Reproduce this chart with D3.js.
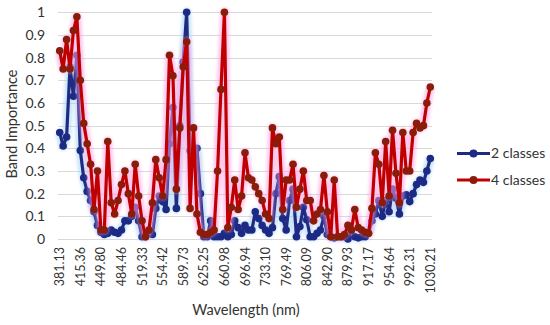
<!DOCTYPE html>
<html>
<head>
<meta charset="utf-8">
<script src="https://cdn.jsdelivr.net/npm/d3@7"></script>
<style>
  body { margin: 0; background: #fff; }
  text { font-family: Lato, "Open Sans", sans-serif; fill: #333; }
</style>
</head>
<body>
<div id="chart"></div>
<script>
// labelled wavelengths (every 6th band)
var tickLabels = ["381.13","415.36","449.80","484.46","519.33","554.42","589.73","625.25","660.98",
                  "696.94","733.10","769.49","806.09","842.90","879.93","917.17","954.64","992.31","1030.21"];

var twoClasses = [
  .47,.41,.45,.76,.63,.81,.39,.27,.21,.17,
  .12,.06,.03,.02,.025,.04,.03,.025,.04,.08,
  .08,.10,.14,.08,.01,.01,.025,.02,.135,.19,
  .165,.13,.42,.58,.135,.50,.78,1.0,.39,.38,
  .40,.20,.01,.01,.08,.01,.01,.01,.025,.01,
  .02,.08,.05,.025,.06,.04,.04,.12,.09,.06,
  .04,.025,.05,.20,.275,.09,.04,.17,.22,.01,
  .055,.14,.085,.01,.01,.025,.04,.10,.02,.01,
  .005,.01,.01,.01,0,.04,.01,.005,.01,.01,
  .025,.08,.11,.17,.10,.17,.12,.22,.18,.11,
  .19,.195,.165,.20,.24,.26,.25,.30,.355
];

var fourClasses = [
  .83,.75,.88,.75,.92,.98,.70,.51,.42,.33,
  .13,.30,.04,.04,.43,.16,.11,.17,.24,.30,
  .20,.11,.33,.19,.08,.01,.04,.16,.35,.27,
  .19,.35,.81,.72,.22,.49,.76,.87,.135,.49,
  .11,.03,.02,.02,.03,.04,.30,.66,1.0,.05,
  .14,.26,.13,.19,.38,.27,.26,.23,.20,.17,
  .11,.09,.49,.42,.45,.13,.26,.26,.33,.14,
  .22,.30,.17,.17,.08,.11,.13,.28,.12,.01,
  .26,.01,.01,.02,.06,.04,.13,.05,.04,.03,
  .025,.135,.38,.33,.16,.43,.19,.48,.29,.16,
  .47,.30,.30,.47,.51,.49,.50,.60,.67
];

var seriesNames = ["2 classes", "4 classes"];
var yTicks = [0, 0.1, 0.2, 0.3, 0.4, 0.5, 0.6, 0.7, 0.8, 0.9, 1];
var labelStep = 6;

var W = 550, H = 325;
var plot = {left: 58, right: 432, top: 12.3, bottom: 239};

var svg = d3.select("#chart").append("svg")
    .attr("width", W)
    .attr("height", H);

var defs = svg.append("defs");
defs.append("filter").attr("id", "glow")
    .attr("x", "-10%").attr("y", "-10%").attr("width", "120%").attr("height", "120%")
  .append("feGaussianBlur").attr("stdDeviation", 1.6);

var x = d3.scaleBand()
    .domain(d3.range(twoClasses.length))
    .range([plot.left, plot.right]);

var y = d3.scaleLinear()
    .domain([0, 1])
    .range([plot.bottom, plot.top]);

function cx(i) { return x(i) + x.bandwidth() / 2; }

// gridlines
svg.append("g").selectAll("line")
    .data(yTicks)
    .enter().append("line")
    .attr("x1", plot.left).attr("x2", plot.right)
    .attr("y1", function(d) { return Math.round(y(d)) + 0.5; })
    .attr("y2", function(d) { return Math.round(y(d)) + 0.5; })
    .attr("stroke", "#d9d9d9")
    .attr("stroke-width", 1);

// y axis labels
svg.append("g").selectAll("text")
    .data(yTicks)
    .enter().append("text")
    .attr("x", 45)
    .attr("y", function(d) { return y(d); })
    .attr("dy", "0.35em")
    .attr("text-anchor", "end")
    .style("font-size", "14px")
    .text(function(d) { return d === 0 || d === 1 ? String(d) : d.toFixed(1); });

// x axis labels, rotated
svg.append("g").selectAll("text")
    .data(tickLabels)
    .enter().append("text")
    .attr("transform", function(d, k) {
        return "translate(" + (cx(k * labelStep) + 4.5) + ",247) rotate(-90)";
    })
    .attr("text-anchor", "end")
    .style("font-size", "12.5px")
    .text(function(d) { return d; });

// axis titles
svg.append("text")
    .attr("x", 246).attr("y", 315)
    .attr("text-anchor", "middle")
    .style("font-size", "14.5px")
    .text("Wavelength (nm)");

svg.append("text")
    .attr("transform", "translate(17,124) rotate(-90)")
    .attr("text-anchor", "middle")
    .style("font-size", "14.5px")
    .text("Band Importance");

var line = d3.line()
    .x(function(d, i) { return cx(i); })
    .y(function(d) { return y(d); });

var styles = [
    {data: twoClasses, line: "#1f2a80", marker: "#1c2a86", glow: "#9fd0f5"},
    {data: fourClasses, line: "#c00000", marker: "#8a1c0a", glow: "#ff9ce0"}
];

styles.forEach(function(s) {
    var g = svg.append("g");
    // soft glow behind the series
    g.append("path")
        .attr("d", line(s.data))
        .attr("fill", "none")
        .attr("stroke", s.glow)
        .attr("stroke-width", 9)
        .attr("stroke-linejoin", "round")
        .attr("opacity", 0.55)
        .attr("filter", "url(#glow)");
    g.append("path")
        .attr("d", line(s.data))
        .attr("fill", "none")
        .attr("stroke", s.line)
        .attr("stroke-width", 3.2)
        .attr("stroke-linejoin", "round");
    g.selectAll("circle")
        .data(s.data)
        .enter().append("circle")
        .attr("cx", function(d, i) { return cx(i); })
        .attr("cy", function(d) { return y(d); })
        .attr("r", 3.8)
        .attr("fill", s.marker);
});

// legend
var legend = svg.append("g");
styles.forEach(function(s, k) {
    var ly = 153.5 + k * 26.5;
    legend.append("line")
        .attr("x1", 457).attr("x2", 490)
        .attr("y1", ly).attr("y2", ly)
        .attr("stroke", s.glow).attr("stroke-width", 7).attr("opacity", 0.5)
        .attr("filter", "url(#glow)");
    legend.append("line")
        .attr("x1", 457).attr("x2", 490)
        .attr("y1", ly).attr("y2", ly)
        .attr("stroke", s.line).attr("stroke-width", 3.2);
    legend.append("circle")
        .attr("cx", 473.5).attr("cy", ly).attr("r", 4)
        .attr("fill", s.marker);
    legend.append("text")
        .attr("x", 491).attr("y", ly)
        .attr("dy", "0.35em")
        .style("font-size", "14px")
        .text(seriesNames[k]);
});
</script>
</body>
</html>
